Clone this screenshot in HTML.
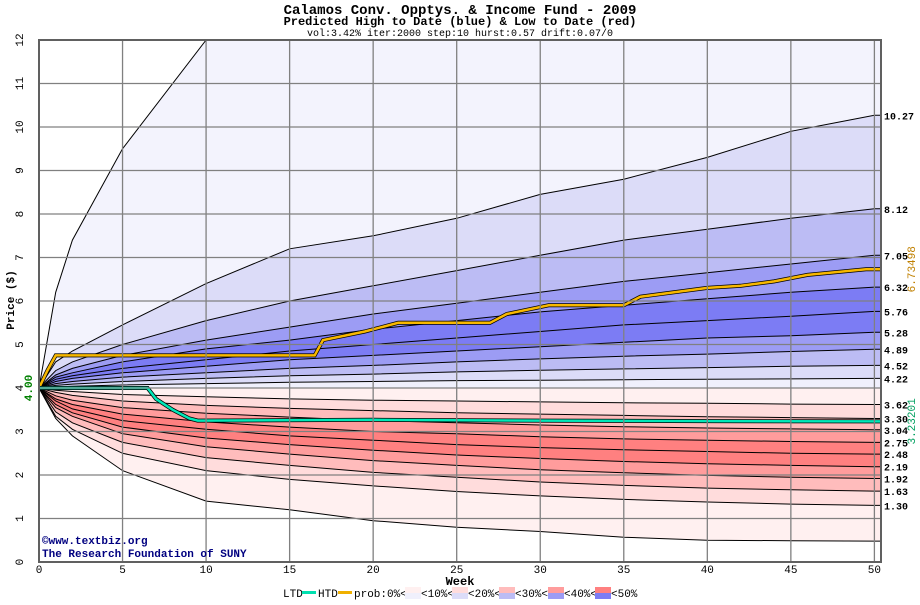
<!DOCTYPE html>
<html><head><meta charset="utf-8"><style>
body{margin:0;background:#fff;width:920px;height:600px;overflow:hidden}
svg text{font-family:"Liberation Mono",monospace}
</style></head><body>
<svg id="c" width="920" height="600" xmlns="http://www.w3.org/2000/svg">
<text x="460" y="14" text-anchor="middle" font-size="14" font-weight="bold">Calamos Conv. Opptys. &amp; Income Fund - 2009</text>
<text x="460" y="25" text-anchor="middle" font-size="12" font-weight="bold">Predicted High to Date (blue) &amp;  Low to Date (red)</text>
<text x="460" y="36" text-anchor="middle" font-size="10">vol:3.42% iter:2000 step:10 hurst:0.57 drift:0.07/0</text>
<g id="plot"></g>
<text x="42" y="544" font-size="11" font-weight="bold" fill="#000080">©www.textbiz.org</text>
<text x="42" y="557" font-size="11" font-weight="bold" fill="#000080">The Research Foundation of SUNY</text>
<text x="460" y="585" text-anchor="middle" font-size="12" font-weight="bold">Week</text>
<text x="14" y="300" text-anchor="middle" font-size="11" font-weight="bold" transform="rotate(-90 14 300)">Price ($)</text>
<g font-size="11">
<text x="283" y="597">LTD</text><rect x="302" y="591" width="14" height="3" fill="#00e0b0"/>
<text x="318" y="597">HTD</text><rect x="338" y="591" width="14" height="3" fill="#f0b000"/>
<text x="354" y="597">prob:0%&lt;</text>
<rect x="405" y="587" width="16" height="6" fill="#fff0f0"/><rect x="405" y="593" width="16" height="6" fill="#f0f0fc"/><text x="421" y="597">&lt;10%&lt;</text>
<rect x="452" y="587" width="16" height="6" fill="#ffdcdc"/><rect x="452" y="593" width="16" height="6" fill="#dcdcf8"/><text x="468" y="597">&lt;20%&lt;</text>
<rect x="499" y="587" width="16" height="6" fill="#ffbcbc"/><rect x="499" y="593" width="16" height="6" fill="#bcbcf4"/><text x="515" y="597">&lt;30%&lt;</text>
<rect x="548" y="587" width="16" height="6" fill="#ff9c9c"/><rect x="548" y="593" width="16" height="6" fill="#9c9cf4"/><text x="564" y="597">&lt;40%&lt;</text>
<rect x="595" y="587" width="16" height="6" fill="#ff8080"/><rect x="595" y="593" width="16" height="6" fill="#7c7cf4"/><text x="611" y="597">&lt;50%</text>
</g>
</svg>
<script>
const weeks=[0,1,2,5,10,15,20,25,30,35,40,45,50];
const curveMax=[4,6.2,7.4,9.5,12,12,12,12,12,12,12,12,12];
const c1027=[4,4.6,4.85,5.45,6.4,7.2,7.5,7.9,8.45,8.8,9.3,9.9,10.27];
const c812=[4,4.4,4.6,5.0,5.55,6.0,6.35,6.7,7.05,7.4,7.65,7.9,8.12];
const c705=[4,4.3,4.45,4.75,5.1,5.4,5.7,5.95,6.2,6.45,6.65,6.85,7.05];
const c632=[4,4.25,4.35,4.6,4.9,5.1,5.35,5.55,5.75,5.9,6.05,6.2,6.32];
const c576=[4,4.2,4.28,4.45,4.65,4.85,5.0,5.15,5.3,5.45,5.55,5.65,5.76];
const c528=[4,4.15,4.22,4.35,4.5,4.65,4.75,4.85,4.95,5.05,5.15,5.2,5.28];
const c489=[4,4.1,4.15,4.25,4.35,4.45,4.52,4.6,4.67,4.73,4.78,4.84,4.89];
const c452=[4,4.06,4.09,4.15,4.22,4.28,4.32,4.37,4.41,4.44,4.47,4.5,4.52];
const c422=[4,4.03,4.04,4.07,4.1,4.13,4.15,4.17,4.18,4.19,4.2,4.21,4.22];
const base=[4,4,4,4,4,4,4,4,4,4,4,4,4];
const c362=[4,3.95,3.92,3.85,3.8,3.75,3.72,3.7,3.68,3.66,3.65,3.63,3.62];
const c330=[4,3.9,3.83,3.7,3.6,3.53,3.48,3.43,3.4,3.37,3.34,3.32,3.30];
const c304=[4,3.82,3.72,3.55,3.42,3.33,3.25,3.2,3.15,3.11,3.08,3.06,3.04];
const c275=[4,3.75,3.62,3.4,3.22,3.1,3.0,2.95,2.88,2.83,2.8,2.77,2.75];
const c248=[4,3.7,3.52,3.25,3.05,2.9,2.8,2.7,2.63,2.58,2.54,2.5,2.48];
const c219=[4,3.62,3.43,3.1,2.85,2.7,2.57,2.46,2.38,2.31,2.26,2.22,2.19];
const c192=[4,3.55,3.35,2.95,2.65,2.48,2.33,2.22,2.12,2.05,1.99,1.95,1.92];
const c163=[4,3.45,3.2,2.75,2.4,2.22,2.06,1.95,1.84,1.76,1.7,1.66,1.63];
const c130=[4,3.35,3.05,2.5,2.1,1.9,1.75,1.62,1.52,1.44,1.38,1.33,1.30];
const curveMin=[4,3.3,2.9,2.1,1.4,1.2,0.95,0.8,0.7,0.57,0.5,0.49,0.48];
const endLabels=["10.27","8.12","7.05","6.32","5.76","5.28","4.89","4.52","4.22","3.62","3.30","3.04","2.75","2.48","2.19","1.92","1.63","1.30"];
const htdWeeks=[0,0.5,1,16.5,17,19.5,20,21.5,27,28,30.5,35,36,40,42,44,46,49.5,50.4];
const htdVals=[4.0,4.4,4.75,4.75,5.1,5.3,5.35,5.5,5.5,5.7,5.9,5.9,6.1,6.3,6.35,6.45,6.6,6.73,6.73];
const ltdWeeks=[0,6.5,7,8,9,9.5,20,30,40,50.4];
const ltdVals=[4.0,4.0,3.75,3.5,3.3,3.25,3.27,3.25,3.24,3.232];
const yTicks=[0,1,2,3,4,5,6,7,8,9,10,11,12];
const xTicks=[0,5,10,15,20,25,30,35,40,45,50];

const NS="http://www.w3.org/2000/svg";
const X0=39,X1=881,Y0=562,Y1=40;
const xs=w=>X0+w*(874.4-39)/50;
const ys=v=>Y0-v*(Y0-Y1)/12;
const g=document.getElementById('plot');
function mk(tag,at,parent){const e=document.createElementNS(NS,tag);for(const k in at)e.setAttribute(k,at[k]);(parent||g).appendChild(e);return e;}
function pts(ws,vs){return ws.map((w,i)=>xs(w).toFixed(1)+','+ys(Math.min(vs[i],12)).toFixed(1));}
function ext(a){return a.concat([a[a.length-1]]);}
const wExt=weeks.concat([50.5]);
const curves=[curveMax,c1027,c812,c705,c632,c576,c528,c489,c452,c422,base,c362,c330,c304,c275,c248,c219,c192,c163,c130,curveMin];
const fills=["#f3f3fd","#dcdcf8","#bcbcf4","#9c9cf4","#7c7cf4","#7c7cf4","#9c9cf4","#bcbcf4","#dcdcf8","#f0f0fc","#fff0f0","#ffdcdc","#ffbcbc","#ff9c9c","#ff8080","#ff8080","#ff9c9c","#ffbcbc","#ffdcdc","#fff0f0"];
mk('rect',{x:X0,y:Y1,width:X1-X0,height:Y0-Y1,fill:'#fff'});
const clip=mk('clipPath',{id:'pc'});mk('rect',{x:X0,y:Y1,width:X1-X0,height:Y0-Y1},clip);
const cg=mk('g',{'clip-path':'url(#pc)'});
for(let i=0;i<fills.length;i++){
  const a=pts(wExt,ext(curves[i])),b=pts(wExt,ext(curves[i+1])).reverse();
  const p=mk('polygon',{points:a.concat(b).join(' '),fill:fills[i]},cg);
  
  
}
for(const t of xTicks){if(t>0){const l=mk('line',{x1:xs(t),y1:Y1,x2:xs(t),y2:Y0,stroke:'#808080','stroke-width':1.3});

}}
for(const t of yTicks){if(t>0&&t<12){const l=mk('line',{x1:X0,y1:ys(t),x2:X1,y2:ys(t),stroke:'#808080','stroke-width':1.3});

}}
curves.forEach((c,i)=>{if(c===base)return;
  const l=mk('polyline',{points:pts(wExt,ext(c)).join(' '),fill:'none',stroke:'#000','stroke-width':1},cg);
  
  
});
function stepLine(ws,vs,col,name){
  const p=[];ws.forEach((w,i)=>{p.push(xs(w).toFixed(1)+','+ys(vs[i]).toFixed(1));});
  mk('polyline',{points:p.join(' '),fill:'none',stroke:'#000','stroke-width':4},cg);
  const l=mk('polyline',{points:p.join(' '),fill:'none',stroke:col,'stroke-width':2.5},cg);
  
  
}
stepLine(htdWeeks,htdVals,'#f8b800','htd-line');
stepLine(ltdWeeks,ltdVals,'#00e8b8','ltd-line');
mk('rect',{x:X0,y:Y1,width:X1-X0,height:Y0-Y1,fill:'none',stroke:'#606060','stroke-width':2});
for(const t of yTicks){const y=ys(t);const tx=mk('text',{x:20,y:y,'font-size':11,'text-anchor':'middle',transform:`rotate(-90 20 ${y})`,'dominant-baseline':'middle'});tx.textContent=t;

}
for(const t of xTicks){const tx=mk('text',{x:xs(t),y:573,'font-size':11,'text-anchor':'middle'});tx.textContent=t;

}
const endCurves=[c1027,c812,c705,c632,c576,c528,c489,c452,c422,c362,c330,c304,c275,c248,c219,c192,c163,c130];
endCurves.forEach((c,i)=>{const tx=mk('text',{x:884,y:ys(c[c.length-1])+4,'font-size':10,'font-weight':'bold'});tx.textContent=endLabels[i];

});
const h=mk('text',{x:915,y:ys(htdVals[htdVals.length-1]),'font-size':11,fill:'#c08000','text-anchor':'middle',transform:`rotate(-90 915 ${ys(htdVals[htdVals.length-1])})`});h.textContent='6.73498';


const lt=mk('text',{x:915,y:ys(ltdVals[ltdVals.length-1]),'font-size':11,fill:'#00a060','text-anchor':'middle',transform:`rotate(-90 915 ${ys(ltdVals[ltdVals.length-1])})`});lt.textContent='3.23201';


const s=mk('text',{x:32,y:ys(4),'font-size':11,'font-weight':'bold',fill:'#008000','text-anchor':'middle',transform:`rotate(-90 32 ${ys(4)})`});s.textContent='4.00';


</script>
</body></html>
